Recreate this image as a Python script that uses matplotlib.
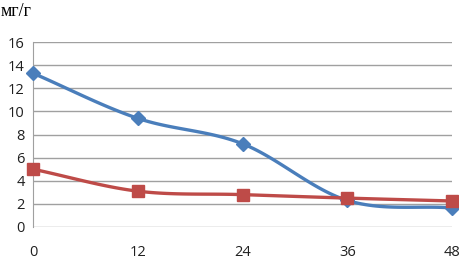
import numpy as np
import matplotlib
matplotlib.use('Agg')
from matplotlib import pyplot as plt

## data
hours = [0, 12, 24, 36, 48]
series_blue = [13.3, 9.4, 7.2, 2.3, 1.65]
series_red = [5.0, 3.1, 2.8, 2.5, 2.25]
y_ticks = [0, 2, 4, 6, 8, 10, 12, 14, 16]
unit_label = 'мг/г'


def smooth(x, y, n=30):
    """catmull-rom curve through the points (like excel smoothed lines)"""
    x = np.asarray(x, float)
    y = np.asarray(y, float)
    px = np.concatenate([[2*x[0]-x[1]], x, [2*x[-1]-x[-2]]])
    py = np.concatenate([[2*y[0]-y[1]], y, [2*y[-1]-y[-2]]])
    xs, ys = [], []
    t = np.linspace(0, 1, n)
    for i in range(1, len(px)-2):
        for p, out in ((px, xs), (py, ys)):
            p0, p1, p2, p3 = p[i-1], p[i], p[i+1], p[i+2]
            out.append(0.5*((2*p1) + (-p0+p2)*t + (2*p0-5*p1+4*p2-p3)*t**2
                            + (-p0+3*p1-3*p2+p3)*t**3))
    return np.concatenate(xs), np.concatenate(ys)


fig = plt.figure(figsize=(4.59, 2.63), dpi=100)
ax = fig.add_axes([33/459, 1-227/263, (452-33)/459, (227-42)/263])

for vals, col, mk, ms in ((series_blue, '#4A7EBB', 'D', 7),
                          (series_red, '#BE4B48', 's', 8.5)):
    sx, sy = smooth(hours, vals)
    ax.plot(sx, sy, color=col, lw=2.4, solid_capstyle='round', zorder=3,
            clip_on=False)
    ax.plot(hours, vals, ls='none', marker=mk, ms=ms, color=col, zorder=4,
            clip_on=False)

ax.set_xlim(0, 48)
ax.set_ylim(0, 16)
ax.set_xticks(hours)
ax.set_yticks(y_ticks)
ax.grid(axis='y', color='#A0A0A0', lw=1)
ax.set_axisbelow(True)
for s in ('top', 'right', 'bottom'):
    ax.spines[s].set_visible(False)
ax.spines['left'].set_color('#A0A0A0')
ax.tick_params(length=0, labelsize=10.5, colors='#202020')
ax.tick_params(axis='x', pad=13)
ax.tick_params(axis='y', pad=6)
for lab in ax.get_xticklabels() + ax.get_yticklabels():
    lab.set_family(['Open Sans', 'DejaVu Sans'])

fig.text(1/459, 1-12/263, unit_label, family='Liberation Serif',
         fontsize=13, va='center', ha='left')

fig.savefig('out.png', dpi=100)
